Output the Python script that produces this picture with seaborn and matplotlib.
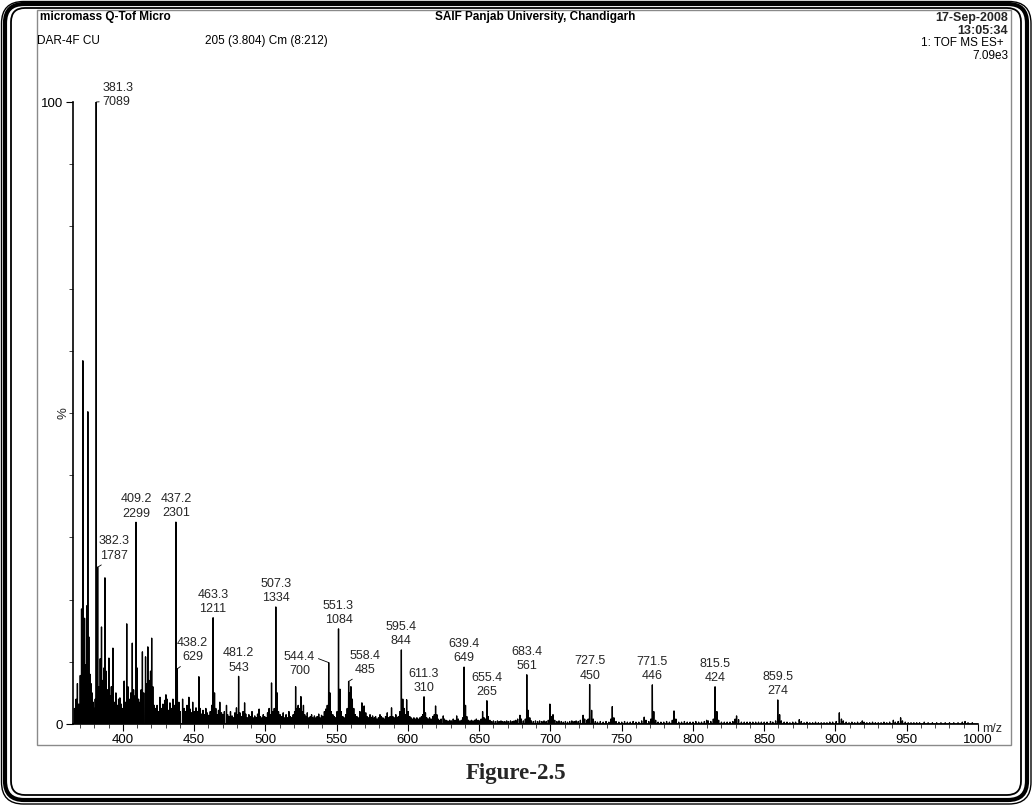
import matplotlib
matplotlib.use("Agg")
import matplotlib.pyplot as plt
from matplotlib.patches import FancyBboxPatch, Rectangle
import numpy as np
import pandas as pd
import seaborn as sns

# ---- annotated peaks: m/z and raw counts --------------------------------
label_mz = [381.3, 382.3, 409.2, 437.2, 438.2, 463.3, 481.2, 507.3, 544.4,
            551.3, 558.4, 595.4, 611.3, 639.4, 655.4, 683.4, 727.5, 771.5,
            815.5, 859.5]
label_counts = [7089, 1787, 2299, 2301, 629, 1211, 543, 1334, 700,
                1084, 485, 844, 310, 649, 265, 561, 450, 446, 424, 274]
base_peak = 7089

# ---- unlabelled peaks: m/z and relative intensity (%) ---------------------
minor_mz = [
    366.0, 367.2, 368.1, 369.0, 370.1, 371.0, 371.9, 372.4, 373.1, 373.9,
    374.6, 375.4, 376.1, 376.9, 377.6, 378.4, 379.2, 380.1, 380.6, 383.2,
    384.1, 385.0, 385.8, 386.6, 387.4, 388.2, 389.1, 390.2, 391.1, 391.9,
    393.0, 394.0, 395.1, 396.2, 397.0, 397.9, 398.8, 399.6, 400.9, 401.7,
    402.7, 403.5, 404.4, 405.5, 406.6, 407.5, 408.3, 410.1, 411.0, 412.0,
    412.8, 413.7, 414.6, 415.9, 416.7, 417.5, 418.4, 419.4, 420.2, 421.0,
    422.0, 423.1, 424.0, 425.0, 426.0, 427.0, 428.1, 429.3, 430.2, 431.0,
    432.1, 433.0, 434.0, 435.1, 436.0, 439.3, 440.2, 441.9, 443.0, 444.1,
    445.0, 446.3, 447.2, 448.1, 449.0, 450.2, 451.3, 452.2, 453.3, 454.2,
    455.1, 456.2, 457.3, 458.2, 459.1, 460.2, 461.3, 462.3, 464.3, 465.2,
    466.3, 467.1, 468.0, 469.2, 470.1, 471.2, 472.7, 473.5, 474.6, 475.5,
    476.6, 477.5, 478.6, 479.7, 480.5, 482.1, 483.2, 484.3, 485.4, 486.2,
    487.3, 488.4, 489.5, 490.6, 491.4, 492.5, 493.6, 494.5, 495.6, 496.5,
    497.6, 498.5, 499.5, 500.6, 501.5, 502.6, 503.4, 504.3, 505.3, 506.2,
    508.3, 509.2, 510.3, 511.5, 512.5, 513.6, 514.5, 515.4, 516.5, 517.5,
    518.4, 519.5, 520.5, 521.2, 522.2, 523.0, 524.1, 524.9, 525.8, 526.7,
    527.6, 528.5, 529.4, 530.5, 531.5, 532.4, 533.3, 534.4, 535.5, 536.3,
    537.4, 538.3, 539.4, 540.3, 541.4, 542.3, 543.4, 545.3, 546.2, 547.3,
    548.2, 549.3, 550.3, 552.3, 553.2, 554.3, 555.2, 556.3, 557.4, 559.3,
    560.0, 561.0, 562.0, 563.1, 564.2, 565.1, 566.3, 567.7, 568.5, 569.3,
    570.4, 571.3, 572.2, 573.4, 574.3, 575.2, 576.4, 577.3, 578.2, 579.3,
    580.4, 581.3, 582.4, 583.4, 584.3, 585.5, 586.4, 587.5, 588.5, 589.4,
    590.4, 591.5, 592.4, 593.3, 594.4, 596.4, 597.3, 598.3, 599.1, 600.2,
    601.3, 602.2, 603.3, 604.2, 605.4, 606.3, 607.2, 608.4, 609.5, 610.4,
    612.3, 613.2, 614.3, 615.2, 616.3, 617.4, 618.5, 619.4, 620.3, 621.2,
    622.4, 623.3, 624.8, 625.6, 626.7, 628.0, 629.3, 630.5, 631.8, 633.0,
    634.2, 635.3, 636.4, 637.5, 638.4, 640.4, 641.3, 642.4, 643.5, 644.6,
    645.7, 646.8, 648.0, 649.2, 650.3, 651.4, 652.4, 653.4, 654.4, 656.4,
    657.5, 658.7, 660.0, 661.4, 662.8, 664.0, 665.3, 666.6, 668.0, 669.3,
    670.6, 672.0, 673.3, 674.5, 675.7, 677.0, 678.6, 679.6, 681.0, 682.4,
    684.4, 685.5, 686.6, 688.0, 689.5, 691.0, 692.4, 694.0, 695.5, 697.0,
    698.5, 699.6, 700.6, 701.8, 703.0, 704.5, 706.0, 707.6, 709.0, 710.5,
    712.0, 713.5, 715.0, 716.6, 718.0, 719.5, 721.0, 722.9, 724.0, 725.5,
    726.5, 728.9, 730.0, 731.5, 733.0, 735.0, 737.0, 739.0, 741.0, 742.4,
    743.4, 744.5, 746.0, 748.0, 750.0, 752.0, 754.0, 756.0, 758.0, 760.0,
    762.0, 764.0, 765.8, 767.0, 769.0, 770.5, 772.5, 773.8, 775.5, 777.5,
    779.5, 781.5, 783.5, 785.5, 786.7, 788.0, 790.0, 792.0, 794.0, 796.0,
    798.0, 800.0, 802.0, 804.0, 806.0, 808.0, 809.6, 810.7, 812.5, 814.3,
    816.8, 818.0, 820.0, 822.0, 824.0, 826.0, 828.0, 829.6, 830.6, 832.0,
    834.0, 836.0, 838.0, 840.0, 842.0, 844.0, 846.0, 848.0, 850.0, 852.0,
    854.4, 856.0, 858.0, 860.8, 862.0, 864.0, 866.0, 868.0, 870.0, 872.0,
    874.6, 876.0, 878.0, 880.0, 882.0, 884.0, 886.0, 888.0, 890.0, 892.0,
    894.0, 896.0, 898.0, 900.5, 902.7, 904.2, 905.5, 907.5, 909.5, 911.5,
    913.5, 915.5, 917.5, 918.8, 920.0, 922.0, 924.0, 926.0, 928.0, 930.0,
    932.0, 934.0, 936.0, 938.0, 940.6, 942.0, 944.0, 945.7, 947.0, 949.0,
    951.0, 953.0, 955.0, 957.0, 959.0, 962.3, 965.0, 968.0, 971.0, 974.0,
    977.0, 980.0, 983.0, 986.0, 989.0, 990.9, 993.0, 996.0,
]
minor_pct = [
    2.5, 4.0, 6.5, 3.2, 7.8, 18.5, 58.4, 12.0, 17.0, 9.5,
    19.0, 50.2, 14.0, 8.0, 6.5, 5.0, 3.5, 2.5, 4.0, 6.0,
    10.5, 15.6, 7.0, 9.0, 23.5, 8.5, 5.5, 10.6, 4.5, 6.0,
    12.2, 3.5, 5.0, 3.0, 4.0, 4.2, 3.2, 2.5, 6.9, 3.5,
    16.1, 6.0, 4.0, 5.0, 13.0, 5.5, 4.5, 9.0, 4.0, 3.5,
    5.5, 11.6, 5.0, 10.8, 6.5, 12.4, 7.0, 8.5, 13.8, 6.0,
    3.0, 2.5, 3.0, 2.0, 4.3, 2.5, 3.2, 3.8, 4.7, 4.0,
    2.2, 3.4, 2.5, 4.0, 3.0, 3.5, 2.0, 4.0, 2.5, 2.0,
    3.0, 4.3, 2.4, 1.8, 3.5, 2.0, 2.6, 2.0, 7.6, 2.5,
    1.6, 2.2, 1.5, 2.5, 1.8, 1.4, 2.0, 3.0, 5.0, 2.5,
    1.5, 2.2, 3.5, 1.8, 1.5, 2.0, 3.0, 1.5, 1.2, 2.0,
    1.3, 1.0, 1.8, 2.6, 1.5, 1.8, 1.2, 2.0, 3.4, 1.6,
    1.0, 1.5, 1.2, 2.0, 1.0, 1.3, 1.0, 1.6, 2.4, 1.2,
    1.0, 1.5, 1.2, 1.0, 1.8, 2.5, 1.5, 6.6, 2.0, 2.5,
    5.0, 2.0, 1.5, 1.2, 1.8, 1.0, 1.5, 1.0, 2.0, 1.2,
    1.0, 1.5, 2.0, 6.0, 2.5, 3.0, 2.5, 4.4, 2.0, 3.0,
    1.5, 1.2, 1.8, 1.0, 1.2, 1.5, 1.0, 1.3, 1.0, 1.2,
    1.6, 1.0, 1.4, 1.2, 2.0, 2.4, 3.0, 5.0, 2.0, 1.5,
    1.2, 1.0, 2.0, 5.6, 2.0, 1.2, 1.0, 1.5, 2.5, 5.0,
    6.0, 4.0, 2.5, 1.5, 1.2, 1.0, 2.0, 3.4, 2.0, 2.9,
    1.8, 1.2, 1.0, 1.5, 1.0, 1.3, 1.0, 1.2, 0.8, 1.0,
    1.5, 1.2, 1.0, 0.8, 1.2, 1.8, 1.0, 1.2, 2.6, 1.2,
    1.0, 1.5, 1.0, 1.2, 2.0, 4.0, 2.5, 1.5, 3.9, 2.0,
    1.2, 1.0, 0.8, 1.0, 0.8, 1.0, 0.8, 1.0, 1.2, 1.5,
    1.8, 1.0, 0.8, 1.0, 0.8, 1.2, 1.5, 2.9, 1.5, 0.8,
    0.6, 0.8, 1.3, 0.8, 0.6, 0.5, 0.6, 0.5, 0.8, 0.6,
    1.3, 0.8, 0.5, 0.6, 1.0, 3.0, 1.2, 0.6, 0.5, 0.6,
    0.5, 0.6, 0.8, 0.6, 0.5, 0.8, 2.0, 1.0, 0.8, 1.2,
    0.6, 0.4, 0.5, 0.4, 0.5, 0.4, 0.5, 0.4, 0.4, 0.5,
    0.4, 0.5, 0.4, 0.5, 0.6, 0.8, 1.4, 0.8, 0.5, 0.8,
    2.2, 1.0, 0.5, 0.4, 0.5, 0.4, 0.5, 0.4, 0.5, 0.4,
    0.6, 3.2, 1.2, 1.5, 0.6, 0.4, 0.5, 0.4, 0.3, 0.4,
    0.3, 0.4, 0.5, 0.4, 0.5, 0.4, 0.6, 1.4, 0.8, 0.6,
    0.8, 2.2, 0.8, 0.4, 0.3, 0.4, 0.3, 0.4, 0.3, 0.8,
    2.8, 1.0, 0.4, 0.3, 0.3, 0.4, 0.3, 0.3, 0.4, 0.3,
    0.3, 0.5, 1.1, 0.6, 0.4, 0.8, 2.0, 0.6, 0.3, 0.3,
    0.3, 0.4, 0.3, 0.6, 2.1, 0.8, 0.3, 0.3, 0.4, 0.3,
    0.3, 0.3, 0.4, 0.3, 0.3, 0.4, 0.6, 0.5, 0.4, 0.8,
    2.0, 0.6, 0.3, 0.3, 0.3, 0.3, 0.4, 0.8, 1.3, 0.7,
    0.3, 0.3, 0.3, 0.3, 0.3, 0.3, 0.3, 0.3, 0.3, 0.3,
    0.4, 0.3, 0.5, 1.5, 0.5, 0.3, 0.3, 0.2, 0.3, 0.3,
    0.7, 0.4, 0.2, 0.3, 0.2, 0.2, 0.3, 0.2, 0.2, 0.2,
    0.2, 0.3, 0.3, 0.4, 1.8, 0.8, 0.5, 0.3, 0.2, 0.3,
    0.2, 0.3, 0.2, 0.5, 0.3, 0.2, 0.2, 0.3, 0.2, 0.2,
    0.2, 0.3, 0.2, 0.3, 0.6, 0.3, 0.4, 1.0, 0.5, 0.3,
    0.2, 0.2, 0.2, 0.2, 0.2, 0.3, 0.2, 0.2, 0.2, 0.2,
    0.2, 0.2, 0.2, 0.2, 0.3, 0.4, 0.2, 0.2,
]

x_ticks = [400, 450, 500, 550, 600, 650, 700, 750, 800, 850, 900, 950, 1000]

# ---- theme --------------------------------------------------------------
sns.set_theme(style="ticks")
plt.rcParams["font.family"] = ["Liberation Sans", "DejaVu Sans"]

W, H = 1032, 805
fig = plt.figure(figsize=(W / 100, H / 100), dpi=100)
fig.patch.set_facecolor("white")

# page layer in pixel units (y downwards) for border, header and caption
page = fig.add_axes([0, 0, 1, 1], zorder=0)
page.set_xlim(0, W)
page.set_ylim(H, 0)
page.axis("off")

# triple rounded border
for (x0, y0, x1, y1, lw, rad) in [(1.5, 1.5, 1031, 804, 1.0, 22),
                                  (5, 4, 1027, 800, 3.0, 19),
                                  (11, 8, 1021, 795, 1.3, 14)]:
    page.add_patch(FancyBboxPatch((x0 + rad, y0 + rad), x1 - x0 - 2 * rad,
                                  y1 - y0 - 2 * rad,
                                  boxstyle=f"round,pad={rad}",
                                  fill=False, ec="black", lw=lw))

# instrument printout frame
page.add_patch(Rectangle((37, 10), 974, 735, fill=False, ec="#8a8a8a", lw=1.0))

hdr = dict(fontsize=8.5, color="black")
page.text(40, 17, "micromass Q-Tof Micro", ha="left", va="center",
          fontweight="bold", **hdr)
page.text(535, 17, "SAIF Panjab University, Chandigarh", ha="center",
          va="center", fontweight="bold", **hdr)
page.text(1008, 18, "17-Sep-2008", ha="right", va="center",
          fontweight="bold", fontsize=9)
page.text(1008, 31, "13:05:34", ha="right", va="center",
          fontweight="bold", fontsize=9)
page.text(37, 41, "DAR-4F CU", ha="left", va="center", **hdr)
page.text(205, 41, "205 (3.804) Cm (8:212)", ha="left", va="center", **hdr)
page.text(1004, 43, "1: TOF MS ES+", ha="right", va="center", **hdr)
page.text(1008, 56, "7.09e3", ha="right", va="center", **hdr)

page.text(516, 773, "Figure-2.5", ha="center", va="center", fontsize=16.5,
          fontweight="bold", family=["Liberation Serif", "DejaVu Serif"])

# ---- spectrum -----------------------------------------------------------
label_pct = [c / base_peak * 100 for c in label_counts]
peaks = pd.DataFrame({"mz": label_mz + minor_mz,
                      "pct": label_pct + minor_pct}).sort_values("mz")

xs, ys = [365.0], [0.0]
for m, p in zip(peaks["mz"], peaks["pct"]):
    xs += [m - 0.12, m, m + 0.12]
    ys += [0.0, p, 0.0]
xs.append(1000.0)
ys.append(0.0)
profile = pd.DataFrame({"mz": xs, "pct": ys})

ax = fig.add_axes([73 / W, 1 - 724 / H, 905 / W, 622 / H], zorder=1)
ax.patch.set_alpha(0)
sns.lineplot(data=profile, x="mz", y="pct", sort=False, estimator=None,
             color="black", lw=0.95, ax=ax)

ax.set_xlim(365, 1000)
ax.set_ylim(0, 100)
sns.despine(ax=ax)
for side in ("left", "bottom"):
    ax.spines[side].set_color("black")
    ax.spines[side].set_linewidth(1.2)

ax.set_xticks(x_ticks)
ax.set_xticklabels([str(t) for t in x_ticks], fontsize=9.5)
ax.set_xticks(np.arange(370, 1000, 10), minor=True)
ax.set_yticks([0, 100])
ax.set_yticklabels(["0", "100"], fontsize=9.5)
ax.set_yticks(np.arange(10, 100, 10), minor=True)
ax.tick_params(axis="x", which="major", length=5, width=0.8, pad=2,
               colors="black")
ax.tick_params(axis="x", which="minor", length=3, width=0.6)
ax.tick_params(axis="y", which="major", length=5, width=0.8, pad=2,
               colors="black")
ax.tick_params(axis="y", which="minor", length=3, width=0.6)
ax.set_xlabel("")
ax.set_ylabel("")
ax.annotate("%", xy=(0, 0.5), xycoords="axes fraction", xytext=(-6.5, 0),
            textcoords="offset points", ha="center", va="center",
            rotation=90, fontsize=9.5, annotation_clip=False)
ax.annotate("m/z", xy=(1, 0), xycoords="axes fraction", xytext=(3, -3.5),
            textcoords="offset points", ha="left", va="center",
            fontsize=9, annotation_clip=False)

# ---- peak annotations ----------------------------------------------------
leader = dict(arrowstyle="-", lw=0.6, color="black", shrinkA=0, shrinkB=0)
special = {
    381.3: dict(xytext=(4.5, 5), ha="left", va="center",
                arrowprops=dict(leader, relpos=(0, 0.25))),
    382.3: dict(xytext=(12, 4), ha="center", va="bottom",
                arrowprops=dict(leader, relpos=(0.25, 0))),
    438.2: dict(xytext=(11, 4), ha="center", va="bottom",
                arrowprops=dict(leader, relpos=(0.25, 0))),
    558.4: dict(xytext=(12, 4), ha="center", va="bottom",
                arrowprops=dict(leader, relpos=(0.25, 0))),
    544.4: dict(xytext=(-21, -1), ha="center", va="center",
                arrowprops=dict(leader, relpos=(1, 0.75))),
}
for m, c, p in zip(label_mz, label_counts, label_pct):
    opts = special.get(m, dict(xytext=(0, 2), ha="center", va="bottom"))
    ax.annotate(f"{m:.1f}\n{c}", xy=(m, p), textcoords="offset points",
                fontsize=9, linespacing=1.25, annotation_clip=False, **opts)

fig.savefig("out.png", dpi=100)
